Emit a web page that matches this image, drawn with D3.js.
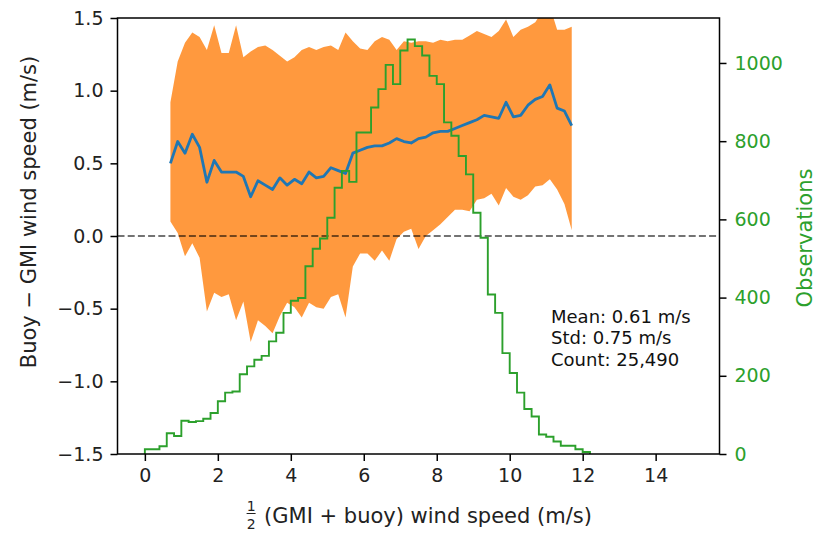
<!DOCTYPE html>
<html>
<head>
<meta charset="utf-8">
<script src="https://cdn.jsdelivr.net/npm/d3@7"></script>
<style>
  body { margin: 0; background: #fff; }
  svg { display: block; font-family: "DejaVu Sans", sans-serif; }
</style>
</head>
<body>
<div id="chart"></div>
<script>
const margin = {'top':18,'right':98.5,'bottom':80,'left':117.5};
const width = 818 - margin.left - margin.right;
const height = 534 - margin.top - margin.bottom;
var svg;
var xScale;
var yLeft;
var yRight;

// bin centres (m/s) of the binned difference statistics
const windCenters = [0.7,0.9,1.1,1.3,1.5,1.7,1.9,2.1,2.3,2.5,
                     2.7,2.9,3.1,3.3,3.5,3.7,3.9,4.1,4.3,4.5,
                     4.7,4.9,5.1,5.3,5.5,5.7,5.9,6.1,6.3,6.5,
                     6.7,6.9,7.1,7.3,7.5,7.7,7.9,8.1,8.3,8.5,
                     8.7,8.9,9.1,9.3,9.5,9.7,9.9,10.1,10.3,10.5,
                     10.7,10.9,11.1,11.3,11.5,11.7];
const meanDiff = [0.50,0.65,0.57,0.70,0.61,0.37,0.52,0.44,0.44,0.44,
                  0.41,0.27,0.38,0.35,0.32,0.40,0.35,0.39,0.36,0.44,
                  0.40,0.41,0.47,0.45,0.43,0.57,0.59,0.61,0.62,0.62,
                  0.64,0.67,0.65,0.64,0.67,0.68,0.71,0.72,0.72,0.74,
                  0.76,0.78,0.80,0.83,0.82,0.81,0.92,0.82,0.83,0.90,
                  0.94,0.96,1.04,0.88,0.86,0.76];
const upperDiff = [0.92,1.20,1.33,1.40,1.37,1.28,1.45,1.26,1.26,1.45,
                   1.23,1.27,1.30,1.31,1.28,1.24,1.20,1.23,1.28,1.30,
                   1.28,1.30,1.31,1.28,1.40,1.34,1.29,1.28,1.34,1.37,
                   1.35,1.28,1.34,1.33,1.34,1.34,1.33,1.35,1.34,1.35,
                   1.35,1.38,1.41,1.39,1.37,1.41,1.49,1.37,1.42,1.44,
                   1.47,1.55,1.58,1.42,1.42,1.44];
const lowerDiff = [0.10,0.02,-0.14,-0.05,-0.15,-0.52,-0.39,-0.42,-0.40,-0.58,
                   -0.45,-0.73,-0.58,-0.62,-0.67,-0.55,-0.46,-0.49,-0.56,-0.46,
                   -0.49,-0.50,-0.42,-0.40,-0.56,-0.21,-0.12,-0.12,-0.17,-0.10,
                   -0.17,-0.02,0.03,0.05,-0.09,0.00,0.04,0.08,0.13,0.18,
                   0.18,0.17,0.25,0.26,0.29,0.21,0.33,0.27,0.25,0.28,
                   0.34,0.35,0.39,0.32,0.22,0.04];

// histogram of observations, bins of 0.2 m/s starting at 0
const histStart = 0;
const histBinWidth = 0.2;
const histCounts = [12,12,20,53,46,85,82,84,90,105,
                    135,157,160,204,224,241,251,288,310,361,
                    392,399,480,525,551,604,681,724,696,822,
                    822,886,933,995,946,1032,1060,1043,1019,967,
                    946,848,814,762,715,617,553,408,361,258,
                    207,157,115,96,50,44,32,21,21,12,
                    5];

const xTicks = [0,2,4,6,8,10,12,14];
const yLeftTicks = [-1.5,-1.0,-0.5,0.0,0.5,1.0,1.5];
const yRightTicks = [0,200,400,600,800,1000];
const statsLines = ['Mean: 0.61 m/s','Std: 0.75 m/s','Count: 25,490'];

const orange = '#ff7f0e';
const blue = '#1f77b4';
const green = '#2ca02c';

function setup(){
  svg = d3.select('#chart')
          .append('svg')
          .attr('width', width + margin.left + margin.right)
          .attr('height', height + margin.top + margin.bottom)
          .append('g')
          .attr('transform', `translate(${margin.left},${margin.top})`);

  svg.append('clipPath')
     .attr('id','plotClip')
     .append('rect')
     .attr('width', width)
     .attr('height', height);
}

function setScales(){
  xScale = d3.scaleLinear().domain([-0.75, 15.75]).range([0, width]);
  yLeft = d3.scaleLinear().domain([-1.5, 1.5]).range([height, 0]);
  yRight = d3.scaleLinear().domain([0, 1115]).range([height, 0]);
}

function makeMarks(){
  const plot = svg.append('g').attr('clip-path','url(#plotClip)');
  const rows = windCenters.map((x, i) => ({x: x, mean: meanDiff[i], lo: lowerDiff[i], hi: upperDiff[i]}));

  plot.append('path')
      .datum(rows)
      .attr('d', d3.area()
                   .x(d => xScale(d.x))
                   .y0(d => yLeft(d.lo))
                   .y1(d => yLeft(d.hi)))
      .attr('fill', orange)
      .attr('fill-opacity', 0.8)
      .attr('stroke', 'none');

  plot.append('path')
      .datum(rows)
      .attr('d', d3.line().x(d => xScale(d.x)).y(d => yLeft(d.mean)))
      .attr('fill','none')
      .attr('stroke', blue)
      .attr('stroke-width', 2.8)
      .attr('stroke-linejoin','round');

  plot.append('line')
      .attr('x1', 0)
      .attr('x2', width)
      .attr('y1', yLeft(0))
      .attr('y2', yLeft(0))
      .attr('stroke', 'black')
      .attr('stroke-opacity', 0.55)
      .attr('stroke-width', 1.9)
      .attr('stroke-dasharray', '7,3.2');

  // step outline of the histogram
  let pts = [[histStart, 0]];
  histCounts.forEach((c, i) => {
    let left = histStart + i * histBinWidth;
    pts.push([left, c]);
    pts.push([left + histBinWidth, c]);
  });
  pts.push([histStart + histCounts.length * histBinWidth, 0]);

  plot.append('path')
      .datum(pts)
      .attr('d', d3.line().x(d => xScale(d[0])).y(d => yRight(d[1])))
      .attr('fill','none')
      .attr('stroke', green)
      .attr('stroke-width', 1.9)
      .attr('stroke-linejoin','miter');
}

function styleAxis(g, color){
  g.select('.domain').remove();
  g.selectAll('.tick line').attr('stroke','black').attr('stroke-width',1.5);
  g.selectAll('.tick text')
   .attr('fill', color)
   .style('font-family','"DejaVu Sans", sans-serif')
   .style('font-size','19px');
}

function makeAxes(){
  svg.append('g')
     .attr('transform', `translate(0,${height})`)
     .call(d3.axisBottom(xScale).tickValues(xTicks).tickSize(7).tickPadding(8).tickFormat(d3.format('d')))
     .call(g => styleAxis(g, '#222'));

  svg.append('g')
     .call(d3.axisLeft(yLeft).tickValues(yLeftTicks).tickSize(7).tickPadding(7).tickFormat(d3.format('.1f')))
     .call(g => styleAxis(g, '#222'));

  svg.append('g')
     .attr('transform', `translate(${width},0)`)
     .call(d3.axisRight(yRight).tickValues(yRightTicks).tickSize(7).tickPadding(8).tickFormat(d3.format('d')))
     .call(g => styleAxis(g, green));

  svg.append('rect')
     .attr('width', width)
     .attr('height', height)
     .attr('fill','none')
     .attr('stroke','black')
     .attr('stroke-width',1.5);
}

function setAxisLabels(){
  svg.append('text')
     .attr('transform', `translate(${36 - margin.left},${212 - margin.top}) rotate(-90)`)
     .style('text-anchor','middle')
     .style('font-size','21px')
     .attr('fill','#222')
     .text('Buoy \u2212 GMI wind speed (m/s)');

  svg.append('text')
     .attr('transform', `translate(${812 - margin.left},${238 - margin.top}) rotate(-90)`)
     .style('text-anchor','middle')
     .style('font-size','21px')
     .attr('fill', green)
     .text('Observations');

  // x label with a stacked 1/2 in front
  const xl = svg.append('g').attr('transform', `translate(0,${523 - margin.top})`);
  const main = xl.append('text')
     .attr('x', 428 - margin.left)
     .style('text-anchor','middle')
     .style('font-size','21px')
     .attr('fill','#222')
     .text('(GMI + buoy) wind speed (m/s)');
  const startX = 428 - margin.left - main.node().getComputedTextLength() / 2;
  const fx = startX - 13;
  xl.append('text').attr('x', fx).attr('y', -12.5).style('text-anchor','middle').style('font-size','14px').attr('fill','#222').text('1');
  xl.append('line').attr('x1', fx - 4.5).attr('x2', fx + 4.5).attr('y1', -9.5).attr('y2', -9.5).attr('stroke','#222').attr('stroke-width',1);
  xl.append('text').attr('x', fx).attr('y', 5.5).style('text-anchor','middle').style('font-size','14px').attr('fill','#222').text('2');
}

function setAnnotation(){
  svg.append('text')
     .attr('x', 551 - margin.left)
     .attr('y', 322.7 - margin.top)
     .style('font-size','18px')
     .attr('fill','#111')
     .selectAll('tspan')
     .data(statsLines)
     .enter().append('tspan')
     .attr('x', 551 - margin.left)
     .attr('dy', (d, i) => i === 0 ? 0 : 21.7)
     .text(d => d);
}

setup();
setScales();
makeMarks();
makeAxes();
setAxisLabels();
setAnnotation();
</script>
</body>
</html>
